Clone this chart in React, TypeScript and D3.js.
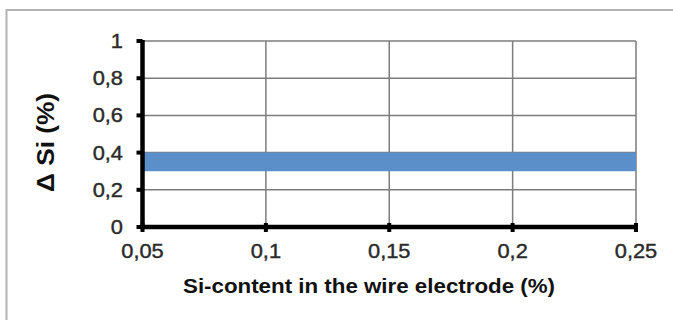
import React from "react";
import * as d3 from "d3";

const xTicks = [0.05, 0.1, 0.15, 0.2, 0.25];
const xTickLabels = ["0,05", "0,1", "0,15", "0,2", "0,25"];
const yTicks = [0, 0.2, 0.4, 0.6, 0.8, 1];
const yTickLabels = ["0", "0,2", "0,4", "0,6", "0,8", "1"];
const bandX = [0.05, 0.25];
const bandLow = [0.3, 0.3];
const bandHigh = [0.4, 0.4];
const xTitle = "Si-content in the wire electrode (%)";
const yTitle = "Δ Si (%)";

export default function App() {
  const W = 673, H = 320;
  const x = d3.scaleLinear().domain([0.05, 0.25]).range([142.5, 636]);
  const y = d3.scaleLinear().domain([0, 1]).range([227, 41]);
  const area = d3
    .area<number>()
    .x((d) => x(d))
    .y0((_, i) => y(bandLow[i]))
    .y1((_, i) => y(bandHigh[i]));
  const font = "Arial, 'Liberation Sans', Helvetica, sans-serif";
  const grid = "#7d7d7d";
  return (
    <svg
      width={W}
      height={H}
      style={{ position: "absolute", left: 0, top: 0, background: "#fff" }}
      fontFamily={font}
    >
      <rect x={0} y={0} width={W} height={H} fill="#fff" />
      <rect x={6.5} y={10} width={700} height={400} fill="none" stroke="#b4b4b4" strokeWidth={2} />
      {/* grid */}
      {yTicks.filter((t) => t > 0).map((t) => (
        <line key={"gy" + t} x1={x(0.05)} x2={x(0.25)} y1={y(t)} y2={y(t)} stroke={grid} strokeWidth={1.5} />
      ))}
      {xTicks.filter((t) => t > 0.05).map((t) => (
        <line key={"gx" + t} x1={x(t)} x2={x(t)} y1={y(0)} y2={y(1)} stroke={grid} strokeWidth={1.5} />
      ))}
      {/* band */}
      <path d={area(bandX) || ""} fill="#5b8fc9" />
      {/* axes */}
      <line x1={x(0.05)} x2={x(0.05)} y1={y(1) - 1} y2={y(0) + 2} stroke="#000" strokeWidth={4.5} />
      <line x1={x(0.05) - 2} x2={x(0.25) + 2} y1={y(0)} y2={y(0)} stroke="#000" strokeWidth={4.5} />
      {yTicks.map((t) => (
        <line key={"ty" + t} x1={x(0.05) - 6} x2={x(0.05)} y1={y(t)} y2={y(t)} stroke="#000" strokeWidth={4} />
      ))}
      {xTicks.map((t) => (
        <line key={"tx" + t} x1={x(t)} x2={x(t)} y1={y(0) - 4} y2={y(0) + 5} stroke="#000" strokeWidth={4} />
      ))}
      {/* tick labels */}
      {yTicks.map((t, i) => (
        <text
          key={"ly" + t}
          transform={`translate(${123},${y(t) + 7}) scale(1.12,1)`}
          textAnchor="end"
          fontSize={19.5}
          fill="#2a2a2a"
          stroke="#2a2a2a"
          strokeWidth={0.4}
        >
          {yTickLabels[i]}
        </text>
      ))}
      {xTicks.map((t, i) => (
        <text
          key={"lx" + t}
          transform={`translate(${x(t)},${258}) scale(1.12,1)`}
          textAnchor="middle"
          fontSize={19.5}
          fill="#2a2a2a"
          stroke="#2a2a2a"
          strokeWidth={0.4}
        >
          {xTickLabels[i]}
        </text>
      ))}
      {/* titles */}
      <text
        x={369}
        y={293}
        textAnchor="middle"
        fontSize={20}
        fontWeight="bold"
        fill="#111"
        textLength={372}
        lengthAdjust="spacingAndGlyphs"
      >
        {xTitle}
      </text>
      <text
        transform={`translate(${54},${142.5}) rotate(-90)`}
        textAnchor="middle"
        fontSize={23}
        fontWeight="bold"
        fill="#111"
        textLength={99}
        lengthAdjust="spacingAndGlyphs"
      >
        {yTitle}
      </text>
    </svg>
  );
}
